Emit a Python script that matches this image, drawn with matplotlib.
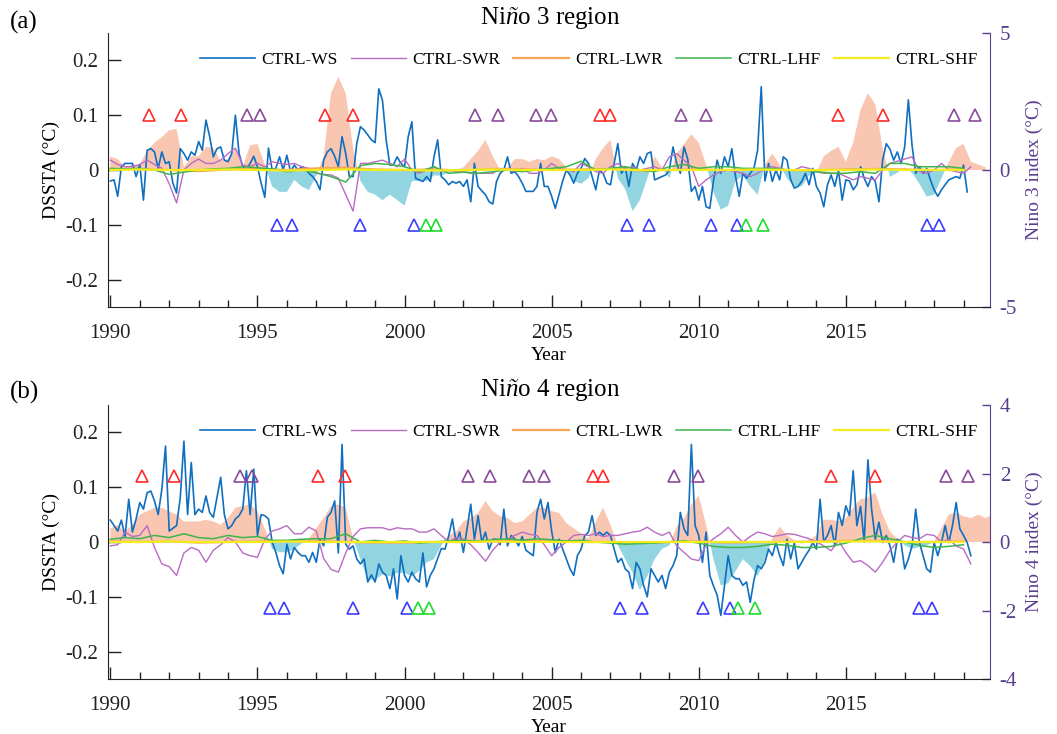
import numpy as np
import matplotlib
matplotlib.use("Agg")
import matplotlib.pyplot as plt
from matplotlib.ticker import MultipleLocator, FixedLocator, FixedFormatter

plt.rcParams['font.family'] = 'Liberation Serif'
plt.rcParams['mathtext.fontset'] = 'custom'
plt.rcParams['mathtext.rm'] = 'Liberation Serif'
plt.rcParams['mathtext.it'] = 'Liberation Serif:italic'
plt.rcParams['axes.unicode_minus'] = False

################ DATA : Nino 3 (a) ################
# CTRL-WS, 8 samples per year starting 1990.0
ws3 = [-0.02, -0.018, -0.048, 0.006, 0.012, 0.012, 0.012, -0.012, 0.01, -0.055,
       0.036, 0.039, 0.033, 0.003, 0.033, 0.012, 0.015, -0.024, -0.042, 0.039,
       0.03, 0.018, 0.033, 0.027, 0.052, 0.036, 0.091, 0.061, 0.024, 0.039,
       0.042, 0.018, 0.015, 0.03, 0.1, 0.03, 0.006, 0.0, 0.012, 0.025,
       0.006, -0.024, -0.05, 0.04, 0.0, 0.003, 0.024, 0.0, 0.027, -0.003,
       0.009, 0.0, 0.006, 0.003, -0.006, -0.012, -0.021, -0.036, 0.018, 0.033,
       0.039, 0.025, 0.006, 0.061, 0.03, -0.012, -0.012, 0.048, 0.079, 0.073,
       0.064, 0.055, 0.05, 0.148, 0.127, 0.055, 0.009, 0.01, 0.024, 0.012,
       0.006, 0.061, 0.088, -0.015, -0.018, -0.021, -0.012, -0.021, 0.024, 0.055,
       -0.012, -0.018, -0.027, -0.021, -0.024, -0.021, -0.03, -0.018, -0.058, 0.012,
       -0.03, -0.038, -0.045, -0.058, -0.062, -0.021, -0.006, 0.0, 0.024, -0.006,
       -0.003, -0.012, -0.024,
       -0.039, -0.039, -0.039, -0.03, 0.012,
       -0.03, -0.03, -0.048, -0.07, -0.045, -0.02, 0.0, -0.009, -0.024, -0.006,
       0.003, 0.021, 0.012, -0.012, -0.036, 0.0, -0.006, -0.024, -0.027, 0.012,
       0.048, -0.006, 0.006, -0.03, 0.012, 0.0, 0.024, 0.012, 0.03, 0.033,
       -0.018, -0.015, -0.012, -0.009, 0.0, 0.042, 0.012, -0.006, 0.042, 0.02,
       -0.039, -0.03, -0.055, -0.03, -0.067, -0.07, -0.02, 0.018, -0.006, 0.024,
       0.006, 0.039, -0.012, -0.048, -0.006, -0.015, -0.006, 0.003, 0.036, 0.152,
       -0.02, 0.012, -0.021, 0.0, -0.018, 0.024, 0.018, -0.018, -0.033, -0.03,
       -0.021, -0.006, -0.027, 0.003, -0.03, -0.042, -0.067, -0.027, -0.009, -0.03,
       0.0, -0.055, -0.018, -0.02, -0.036, -0.027, 0.006, -0.015, -0.03, -0.012,
       -0.021, -0.058, 0.018, 0.048, 0.038, 0.018, 0.033, 0.012, 0.042, 0.128,
       0.045, -0.006, 0.006, -0.006, 0.003, -0.018, -0.036, -0.048, -0.036, -0.027,
       -0.018, -0.015, -0.012, -0.015, 0.009, -0.04]
# CTRL-SWR, quarterly from 1990.0
swr3 = [0.018, 0.01, 0.006, 0.006, 0.01, 0.018, 0.01, 0.003,
        -0.025, -0.06, 0.0, 0.012, 0.02, 0.012, 0.012, 0.018,
        0.03, 0.04, 0.009, 0.006, 0.012, 0.006, 0.015, 0.012,
        0.01, 0.012, 0.006, 0.003, -0.006, -0.008, -0.009, -0.015,
        -0.045, -0.075, 0.012, 0.012, 0.015, 0.018, 0.012, 0.006,
        0.02, 0.0, -0.006, 0.0, 0.006, -0.003, 0.0, -0.003,
        -0.003, -0.006, -0.006, -0.006, -0.006, 0.003, 0.0, -0.003,
        0.003, -0.006, -0.006, 0.0, 0.012, 0.003, 0.0, -0.003,
        0.012, 0.006, -0.003, -0.006, 0.006, 0.012, 0.003, 0.006,
        0.0, 0.003, 0.006, 0.0, 0.024, 0.03, 0.018, 0.006,
        -0.03, -0.018, -0.009, -0.003, 0.0, -0.003, -0.006, -0.012,
        -0.006, 0.003, 0.006, 0.003, 0.0, 0.0, 0.006, 0.003,
        -0.003, -0.006, -0.006, -0.006, -0.012, -0.018, -0.012, -0.015,
        -0.018, 0.0, 0.012, 0.016, 0.02, 0.024, -0.003, -0.006,
        0.0, 0.012, 0.0, -0.003, -0.006, 0.006]
# CTRL-LHF, half-yearly from 1990.0
lhf3 = [0.003, 0.002, 0.003, 0.0, -0.008, -0.004, 0.0, 0.002, 0.003, 0.006,
        0.004, 0.002, -0.003, 0.0, -0.005, -0.012, -0.022, 0.008, 0.012, 0.01,
        0.006, -0.003, 0.006, -0.006, -0.004, -0.006, -0.003, 0.0, -0.003, 0.0,
        0.003, 0.006, 0.016, 0.0, 0.003, 0.006, 0.0, -0.003, 0.006, 0.01,
        0.003, 0.006, 0.006, 0.003, 0.003, 0.003, 0.0, 0.0, -0.003, -0.006,
        -0.006, -0.003, -0.006, 0.012, 0.012, 0.006, 0.006, 0.006, 0.003]
# CTRL-LWR and CTRL-SHF, yearly from 1990
lwr3 = [0.002, 0.001, 0.0, -0.002, 0.001, 0.002, 0.0, 0.003, 0.004, 0.001,
        0.0, 0.001, -0.001, 0.002, 0.001, 0.0, 0.001, 0.002, -0.001, 0.0,
        0.001, 0.0, 0.001, 0.0, -0.001, 0.001, 0.002, 0.001, 0.0, 0.001]
shf3 = [0.0, 0.001, 0.0, 0.0, 0.001, 0.0, -0.001, 0.0, 0.001, 0.0,
        0.0, -0.001, 0.0, 0.001, 0.0, 0.0, 0.0, 0.001, 0.0, 0.0,
        0.0, 0.0, 0.001, 0.0, 0.0, 0.0, 0.001, 0.0, 0.0, 0.0]
# Nino 3 index, quarterly from 1990.0
nino3 = [0.5, 0.4, 0.1, 0.2, 0.2, 0.7, 1.0, 1.2,
         1.45, 1.5, 0.1, 0.5, 0.5, 0.85, 0.8, 0.35,
         0.4, 0.8, 0.1, 0.9, 0.95, 0.2, -0.6, -0.8,
         -0.8, -0.36, -0.6, -0.73, -0.2, 0.5, 2.8, 3.4,
         2.8, 0.8, -0.4, -0.8, -0.9, -1.1, -0.9, -1.1,
         -1.3, -0.4, -0.4, -0.4, -0.2, -0.2, -0.1, 0.0,
         0.1, 0.4, 0.7, 1.1, 0.5, 0.0, 0.1, 0.4,
         0.4, 0.3, 0.4, 0.36, 0.5, 0.4, 0.1, -0.4,
         -0.5, -0.3, 0.4, 0.8, 1.1, -0.3, -0.7, -1.5,
         -1.1, -0.3, 0.5, 0.1, -0.3, 0.6, 0.95, 1.3,
         1.0, 0.2, -0.8, -1.45, -1.3, -0.4, -0.2, -0.6,
         -0.9, 0.2, 0.6, 0.2, -0.3, -0.6, -0.6, -0.2,
         -0.1, 0.5, 0.7, 0.85, 0.3, 1.0, 2.2, 2.8,
         2.4, 0.8, -0.25, -0.1, 0.1, -0.1, -0.5, -0.97,
         -0.9, -0.3, 0.3, 0.8, 0.95, 0.3, 0.2, 0.1]
# event markers (year)
red3 = [1991.33, 1992.40, 1997.31, 1998.24, 2006.66, 2007.0, 2014.75, 2016.25]
purple3 = [1994.65, 1995.08, 2002.40, 2003.16, 2004.48, 2004.99, 2009.39, 2010.25, 2018.67, 2019.39]
blue3 = [1995.67, 1996.16, 1998.49, 2000.32, 2007.57, 2008.32, 2010.41, 2011.30, 2017.75, 2018.15]
green3 = [2000.72, 2001.08, 2011.59, 2012.17]

################ DATA : Nino 4 (b) ################
ws4 = [0.04, 0.03, 0.02, 0.04, 0.01, 0.078, 0.018, 0.042, 0.072, 0.06,
       0.09, 0.093, 0.075, 0.05, 0.096, 0.175, 0.02, 0.025, 0.03, 0.08,
       0.184, 0.05, 0.145, 0.05, 0.06, 0.054, 0.084, 0.054, 0.045, 0.081,
       0.118, 0.05, 0.024, 0.03, 0.042, 0.048, 0.06, 0.13, 0.05, 0.133,
       0.012, 0.05, 0.048, 0.042, 0.0, -0.019, -0.043, -0.058, -0.004, -0.031,
       -0.01, -0.019, -0.025, -0.025, -0.037, -0.019, -0.037, 0.005, -0.007, 0.045,
       0.054, 0.075, -0.02, 0.178, -0.004, -0.013, -0.007, -0.031, -0.04, -0.031,
       -0.073, -0.06, -0.073, -0.04, -0.055, -0.061, -0.085, -0.049, -0.104, -0.025,
       -0.061, -0.073, -0.055, -0.067, -0.073, -0.02, -0.082, -0.061, -0.049, -0.03,
       -0.012, -0.013, 0.011, 0.042, 0.0, 0.018, -0.019, 0.024, 0.069, 0.005,
       0.048, 0.0, 0.018, -0.013, 0.005, 0.005, -0.005, 0.06, -0.007, 0.012,
       0.005, -0.007, 0.01, -0.015, -0.02, -0.025, 0.054, 0.078, 0.042, 0.072,
       0.02, -0.019, 0.005, -0.013, -0.031, -0.049, -0.061, -0.025, -0.013, 0.012,
       0.018, 0.048, 0.012, 0.018, 0.012, 0.018, 0.012, -0.013, -0.037, -0.03,
       -0.049, -0.055, -0.085, -0.037, -0.049, -0.079, -0.1, -0.049, -0.061, -0.073,
       -0.061, -0.085, -0.055, -0.043, -0.025, 0.054, 0.024, 0.012, 0.178, 0.03,
       0.012, -0.037, 0.018, -0.061, -0.08, -0.097, -0.134, -0.079, -0.025, -0.061,
       -0.067, -0.067, -0.079, -0.073, -0.11, -0.07, -0.043, -0.049, -0.037, -0.013,
       -0.025, -0.001, -0.025, -0.043, 0.005, -0.031, -0.001, -0.049, -0.037, -0.025,
       -0.015, -0.001, -0.013, 0.078, 0.0, 0.012, 0.03, -0.007, 0.054, 0.03,
       0.066, 0.048, 0.13, 0.03, 0.065, 0.0, 0.15, 0.06, 0.005, 0.036,
       -0.001, 0.012, -0.007, -0.037, 0.005, -0.001, -0.049, -0.031, -0.007, 0.06,
       0.0, -0.025, -0.049, -0.055, -0.001, -0.025, -0.001, 0.03, -0.001, 0.03,
       0.072, 0.024, 0.012, -0.001, -0.025]
swr4 = [-0.007, -0.005, 0.018, 0.01, 0.012, 0.03, -0.01, -0.04,
        -0.045, -0.061, -0.02, -0.01, -0.015, -0.037, -0.015, -0.005,
        0.008, 0.0, -0.02, -0.025, -0.028, 0.005, 0.02, 0.024,
        0.03, 0.015, 0.015, 0.027, 0.02, -0.03, -0.05, -0.055,
        -0.02, 0.01, 0.024, 0.026, 0.026, 0.026, 0.022, 0.026,
        0.024, 0.024, 0.018, 0.018, 0.024, 0.012, 0.0, 0.008,
        0.005, -0.005, -0.019, -0.035, -0.015, 0.0, 0.005, 0.012,
        0.018, 0.014, 0.012, -0.005, -0.025, -0.01, 0.0, 0.012,
        0.014, 0.012, 0.015, 0.01, 0.012, 0.012, 0.015, 0.018,
        0.02, 0.027, 0.018, 0.012, 0.018, -0.007, -0.019, -0.031,
        -0.034, -0.005, 0.006, 0.015, 0.027, 0.012, 0.0, 0.01,
        0.018, 0.015, 0.01, 0.012, 0.015, 0.014, 0.01, 0.006,
        0.0, -0.007, -0.016, 0.002, -0.019, -0.037, -0.034, -0.043,
        -0.055, -0.037, -0.015, 0.0, 0.012, 0.008, 0.006, 0.014,
        0.012, 0.0, 0.005, -0.007, -0.013, -0.04]
lhf4 = [0.005, 0.008, 0.006, 0.012, 0.008, 0.015, 0.008, 0.006, 0.012, 0.008,
        0.01, 0.003, 0.003, 0.005, 0.006, 0.006, 0.015, 0.0, 0.003, 0.0,
        0.002, -0.002, 0.0, 0.002, 0.003, 0.002, 0.004, 0.006, 0.003, 0.006,
        0.004, 0.002, 0.003, 0.0, -0.002, -0.004, -0.003, -0.002, 0.0, 0.002,
        -0.002, -0.008, -0.01, -0.01, -0.008, -0.004, -0.006, -0.01, -0.01, -0.008,
        -0.002, 0.006, 0.012, 0.006, 0.0, -0.006, -0.01, -0.008, -0.005]
lwr4 = [0.001, 0.0, 0.001, -0.001, 0.0, 0.001, 0.002, 0.001, 0.0, -0.001,
        -0.001, 0.0, 0.0, 0.001, 0.002, 0.001, 0.0, 0.0, -0.001, 0.0,
        0.001, -0.001, 0.0, 0.0, 0.001, 0.002, 0.002, 0.0, 0.0, 0.001]
shf4 = [0.0, 0.0, 0.001, 0.0, 0.0, 0.0, 0.001, 0.0, 0.0, 0.0,
        0.0, 0.0, 0.0, 0.001, 0.0, 0.0, 0.0, 0.0, 0.0, 0.0,
        0.0, 0.0, 0.0, 0.0, 0.0, 0.001, 0.001, 0.0, 0.0, 0.0]
nino4 = [0.4, 0.5, 0.3, 0.5, 0.8, 0.9, 1.0, 1.0,
         0.9, 0.8, 0.6, 0.6, 0.6, 0.65, 0.6, 0.5,
         0.7, 1.0, 1.05, 1.1, 0.9, 0.4, -0.2, -0.3,
         -0.3, -0.2, -0.05, 0.1, 0.4, 0.7, 1.05, 1.1,
         1.0, 0.1, -0.5, -1.1, -1.1, -0.95, -1.0, -0.9,
         -0.9, -1.0, -0.85, -0.6, -0.5, -0.1, 0.2, 0.3,
         0.6, 0.7, 0.85, 1.2, 0.9, 0.75, 0.7, 0.55,
         0.6, 0.8, 1.0, 1.0, 0.9, 0.85, 0.55, 0.4,
         0.25, 0.1, 0.6, 1.0, 0.5, -0.1, -0.5, -0.9,
         -1.4, -1.0, -0.5, -0.2, -0.1, 0.45, 0.7, 1.1,
         1.35, 0.5, -0.5, -1.27, -1.2, -0.85, -0.5, -0.7,
         -1.0, -0.5, 0.1, 0.45, 0.2, 0.05, -0.05, 0.05,
         0.2, 0.65, 0.65, 0.6, 0.7, 1.0, 1.25, 1.3,
         1.45, 0.8, 0.3, 0.1, -0.1, -0.2, -0.15, -0.1,
         0.0, 0.4, 0.8, 0.85, 0.75, 0.7, 0.8, 0.7, 0.8]
red4 = [1991.08, 1992.15, 1997.06, 1997.99, 2006.40, 2006.75, 2014.49, 2015.99]
purple4 = [1994.41, 1994.83, 2002.16, 2002.90, 2004.23, 2004.75, 2009.15, 2009.99, 2018.40, 2019.16]
blue4 = [1995.41, 1995.91, 1998.24, 2000.07, 2007.33, 2008.07, 2010.16, 2011.06, 2017.49, 2017.92]
green4 = [2000.45, 2000.83, 2011.33, 2011.92]

labels = ['CTRL-WS', 'CTRL-SWR', 'CTRL-LWR', 'CTRL-LHF', 'CTRL-SHF']
colors = ['#0F6FC0', '#B96BC4', '#F6A552', '#3DB54B', '#F3EC1F']
idx_col = '#5A3E8E'


def years(v, per_year):
    return 1990 + np.arange(len(v)) / per_year


def panel(ax, ws, swr, lwr, lhf, shf, nino, nlim, nticks, ev, ey, rlabel):
    ax2 = ax.twinx()
    ax.set_zorder(ax2.get_zorder() + 1)
    ax.patch.set_visible(False)

    tn = years(nino, 4)
    nino = np.array(nino)
    ax2.fill_between(tn, nino, 0, where=nino >= 0, interpolate=True, color='#F9C6B1', lw=0)
    ax2.fill_between(tn, nino, 0, where=nino <= 0, interpolate=True, color='#92D5E1', lw=0)
    ax2.set_ylim(-nlim, nlim)
    ax2.yaxis.set_major_locator(FixedLocator(nticks))
    ax2.tick_params(axis='y', direction='in', length=6, width=1, colors=idx_col,
                    labelsize=15, pad=7)
    for s in ['top', 'left', 'bottom']:
        ax2.spines[s].set_visible(False)
    ax2.spines['right'].set_color(idx_col)
    ax2.set_ylabel(rlabel, color=idx_col, fontsize=14, labelpad=6)

    h = []
    h += ax.plot(years(ws, 8), ws, color=colors[0], lw=1.2)
    h += ax.plot(years(swr, 4), swr, color=colors[1], lw=1.0)
    h += ax.plot(years(lwr, 1), lwr, color=colors[2], lw=1.6)
    h += ax.plot(years(lhf, 2), lhf, color=colors[3], lw=1.1)
    h += ax.plot(years(shf, 1), shf, color=colors[4], lw=1.6)

    red, purple, blue, green = ev
    kw = dict(ls='none', marker='^', mfc='none', ms=8, mew=1.2)
    ax.plot(red, [ey] * len(red), mec='#FF2B2B', **kw)
    ax.plot(purple, [ey] * len(purple), mec='#8A4A9C', **kw)
    ax.plot(blue, [-ey] * len(blue), mec='#3C3CFF', **kw)
    ax.plot(green, [-ey] * len(green), mec='#1FDC2A', **kw)

    ax.set_xlim(1989.92, 2019.9)
    ax.set_ylim(-0.25, 0.25)
    ax.xaxis.set_major_locator(MultipleLocator(5))
    ax.xaxis.set_minor_locator(MultipleLocator(1))
    ax.yaxis.set_major_locator(FixedLocator([-0.2, -0.1, 0, 0.1, 0.2]))
    ax.yaxis.set_major_formatter(FixedFormatter(['-0.2', '-0.1', '0', '0.1', '0.2']))
    ax.tick_params(axis='both', which='major', direction='in', length=9, width=1,
                   labelsize=15, colors='#222222')
    ax.tick_params(axis='x', which='major', pad=12)
    ax.tick_params(axis='y', which='major', pad=7)
    ax.tick_params(axis='x', which='minor', direction='in', length=5, width=1, colors='#222222')
    for s in ['top', 'right']:
        ax.spines[s].set_visible(False)
    for s in ['left', 'bottom']:
        ax.spines[s].set_color('#222222')
    ax.set_xlabel('Year', fontsize=14, labelpad=3)
    ax.set_ylabel('DSSTA (°C)', fontsize=14, labelpad=4)

    ax.legend(h, labels, ncol=5, loc='center', bbox_to_anchor=(0.545, 0.90),
              frameon=False, fontsize=12.5, handlelength=3.2, columnspacing=0.75,
              handletextpad=0.35, borderaxespad=0)


fig = plt.figure(figsize=(10.57, 7.34), dpi=100)
ax_a = fig.add_axes([108 / 1057, 1 - 307 / 734, 882 / 1057, 274 / 734])
ax_b = fig.add_axes([108 / 1057, 1 - 679 / 734, 882 / 1057, 274 / 734])

panel(ax_a, ws3, swr3, lwr3, lhf3, shf3, nino3, 5, [-5, 0, 5],
      (red3, purple3, blue3, green3), 0.1, 'Nino 3 index (°C)')
panel(ax_b, ws4, swr4, lwr4, lhf4, shf4, nino4, 4, [-4, -2, 0, 2, 4],
      (red4, purple4, blue4, green4), 0.12, 'Nino 4 index (°C)')

fig.text(10 / 1057, 1 - 22 / 734, '(a)', fontsize=18, va='center', ha='left')
fig.text(10 / 1057, 1 - 392 / 734, '(b)', fontsize=18, va='center', ha='left')
fig.text(550 / 1057, 1 - 18 / 734, r'Ni$\it{ñ}$o 3 region', fontsize=18, va='center', ha='center')
fig.text(550 / 1057, 1 - 390 / 734, r'Ni$\it{ñ}$o 4 region', fontsize=18, va='center', ha='center')

plt.savefig('out.png', dpi=100)
